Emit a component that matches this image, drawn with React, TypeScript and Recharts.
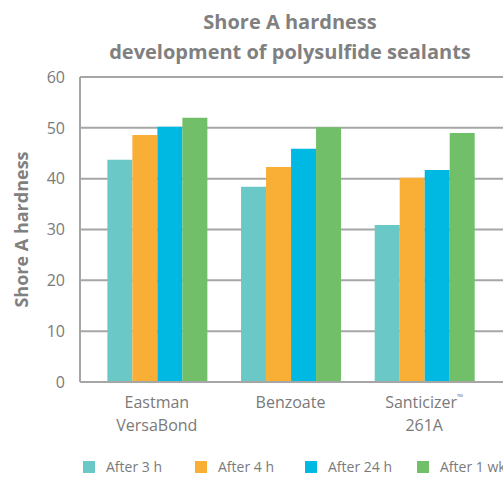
import { BarChart, Bar, XAxis, YAxis, CartesianGrid } from 'recharts';

const categories = ['Eastman VersaBond', 'Benzoate', 'Santicizer™ 261A'];
const after3h = [43.7, 38.4, 30.9];
const after4h = [48.6, 42.3, 40.2];
const after24h = [50.2, 45.9, 41.7];
const after1wk = [52.0, 50.1, 49.0];
const yTicks = [0, 10, 20, 30, 40, 50, 60];

const seriesNames = ['After 3 h', 'After 4 h', 'After 24 h', 'After 1 wk'];
const COLORS = ['#6ac8c6', '#f9ae35', '#00b9e3', '#72bf69'];
const GREY = '#a6a6a6';
const TEXT = '#7a7a7a';
const FONT = '"Open Sans", "Noto Sans", sans-serif';

const data = categories.map((name, i) => ({
  name,
  a: after3h[i],
  b: after4h[i],
  c: after24h[i],
  d: after1wk[i],
}));

function CategoryTick({ x, y, payload }: any) {
  const lines = String(payload.value).split(' ');
  return (
    <g>
      {lines.map((line, i) => {
        const tm = line.endsWith('™');
        const base = tm ? line.slice(0, -1) : line;
        return (
          <text key={i} x={x} y={y + 18 + i * 23} textAnchor="middle" fill={TEXT} fontSize={16} fontFamily={FONT}>
            {base}
            {tm && (
              <tspan fontSize={8} dy={-8}>
                ™
              </tspan>
            )}
          </text>
        );
      })}
    </g>
  );
}

export default function App() {
  return (
    <div style={{ position: 'absolute', left: 0, top: 0, width: 503, height: 477, fontFamily: FONT, background: '#fff', overflow: 'hidden' }}>
      <div
        style={{
          position: 'absolute',
          left: 80,
          width: 420,
          top: 7,
          textAlign: 'center',
          color: '#808080',
          fontWeight: 700,
          fontSize: 20,
          lineHeight: '30px',
        }}
      >
        Shore A hardness
        <br />
        development of polysulfide sealants
      </div>
      <BarChart
        width={503}
        height={477}
        data={data}
        margin={{ top: 77, right: 0, left: 0, bottom: 45 }}
        barCategoryGap="13%"
        barGap={0}
      >
        <CartesianGrid vertical={false} stroke={GREY} strokeWidth={2} />
        <XAxis
          dataKey="name"
          height={50}
          padding={{ left: 10, right: 12 }}
          axisLine={{ stroke: GREY, strokeWidth: 2 }}
          tickLine={false}
          interval={0}
          tick={<CategoryTick />}
        />
        <YAxis
          width={80}
          domain={[0, 60]}
          ticks={yTicks}
          interval={0}
          axisLine={{ stroke: GREY, strokeWidth: 2 }}
          tickLine={false}
          tickMargin={9}
          tick={{ fill: TEXT, fontSize: 16, fontFamily: FONT }}
          label={{
            value: 'Shore A hardness',
            angle: -90,
            position: 'insideLeft',
            offset: 22,
            style: { fill: '#808080', fontSize: 18, fontWeight: 700, fontFamily: FONT, textAnchor: 'middle' },
          }}
        />
        <Bar dataKey="a" name={seriesNames[0]} fill={COLORS[0]} isAnimationActive={false} />
        <Bar dataKey="b" name={seriesNames[1]} fill={COLORS[1]} isAnimationActive={false} />
        <Bar dataKey="c" name={seriesNames[2]} fill={COLORS[2]} isAnimationActive={false} />
        <Bar dataKey="d" name={seriesNames[3]} fill={COLORS[3]} isAnimationActive={false} />
      </BarChart>
      <div style={{ position: 'absolute', top: 460, left: 83, display: 'flex', whiteSpace: 'nowrap', color: TEXT, fontSize: 14, lineHeight: '14px' }}>
        {seriesNames.map((n, i) => (
          <div
            key={n}
            style={{ display: 'flex', alignItems: 'center', flexShrink: 0, width: i === 3 ? 'auto' : [112, 110, 112][i] }}
          >
            <span style={{ display: 'inline-block', width: 12, height: 12, background: COLORS[i], marginRight: 11, flexShrink: 0 }} />
            <span>{n}</span>
          </div>
        ))}
      </div>
    </div>
  );
}
